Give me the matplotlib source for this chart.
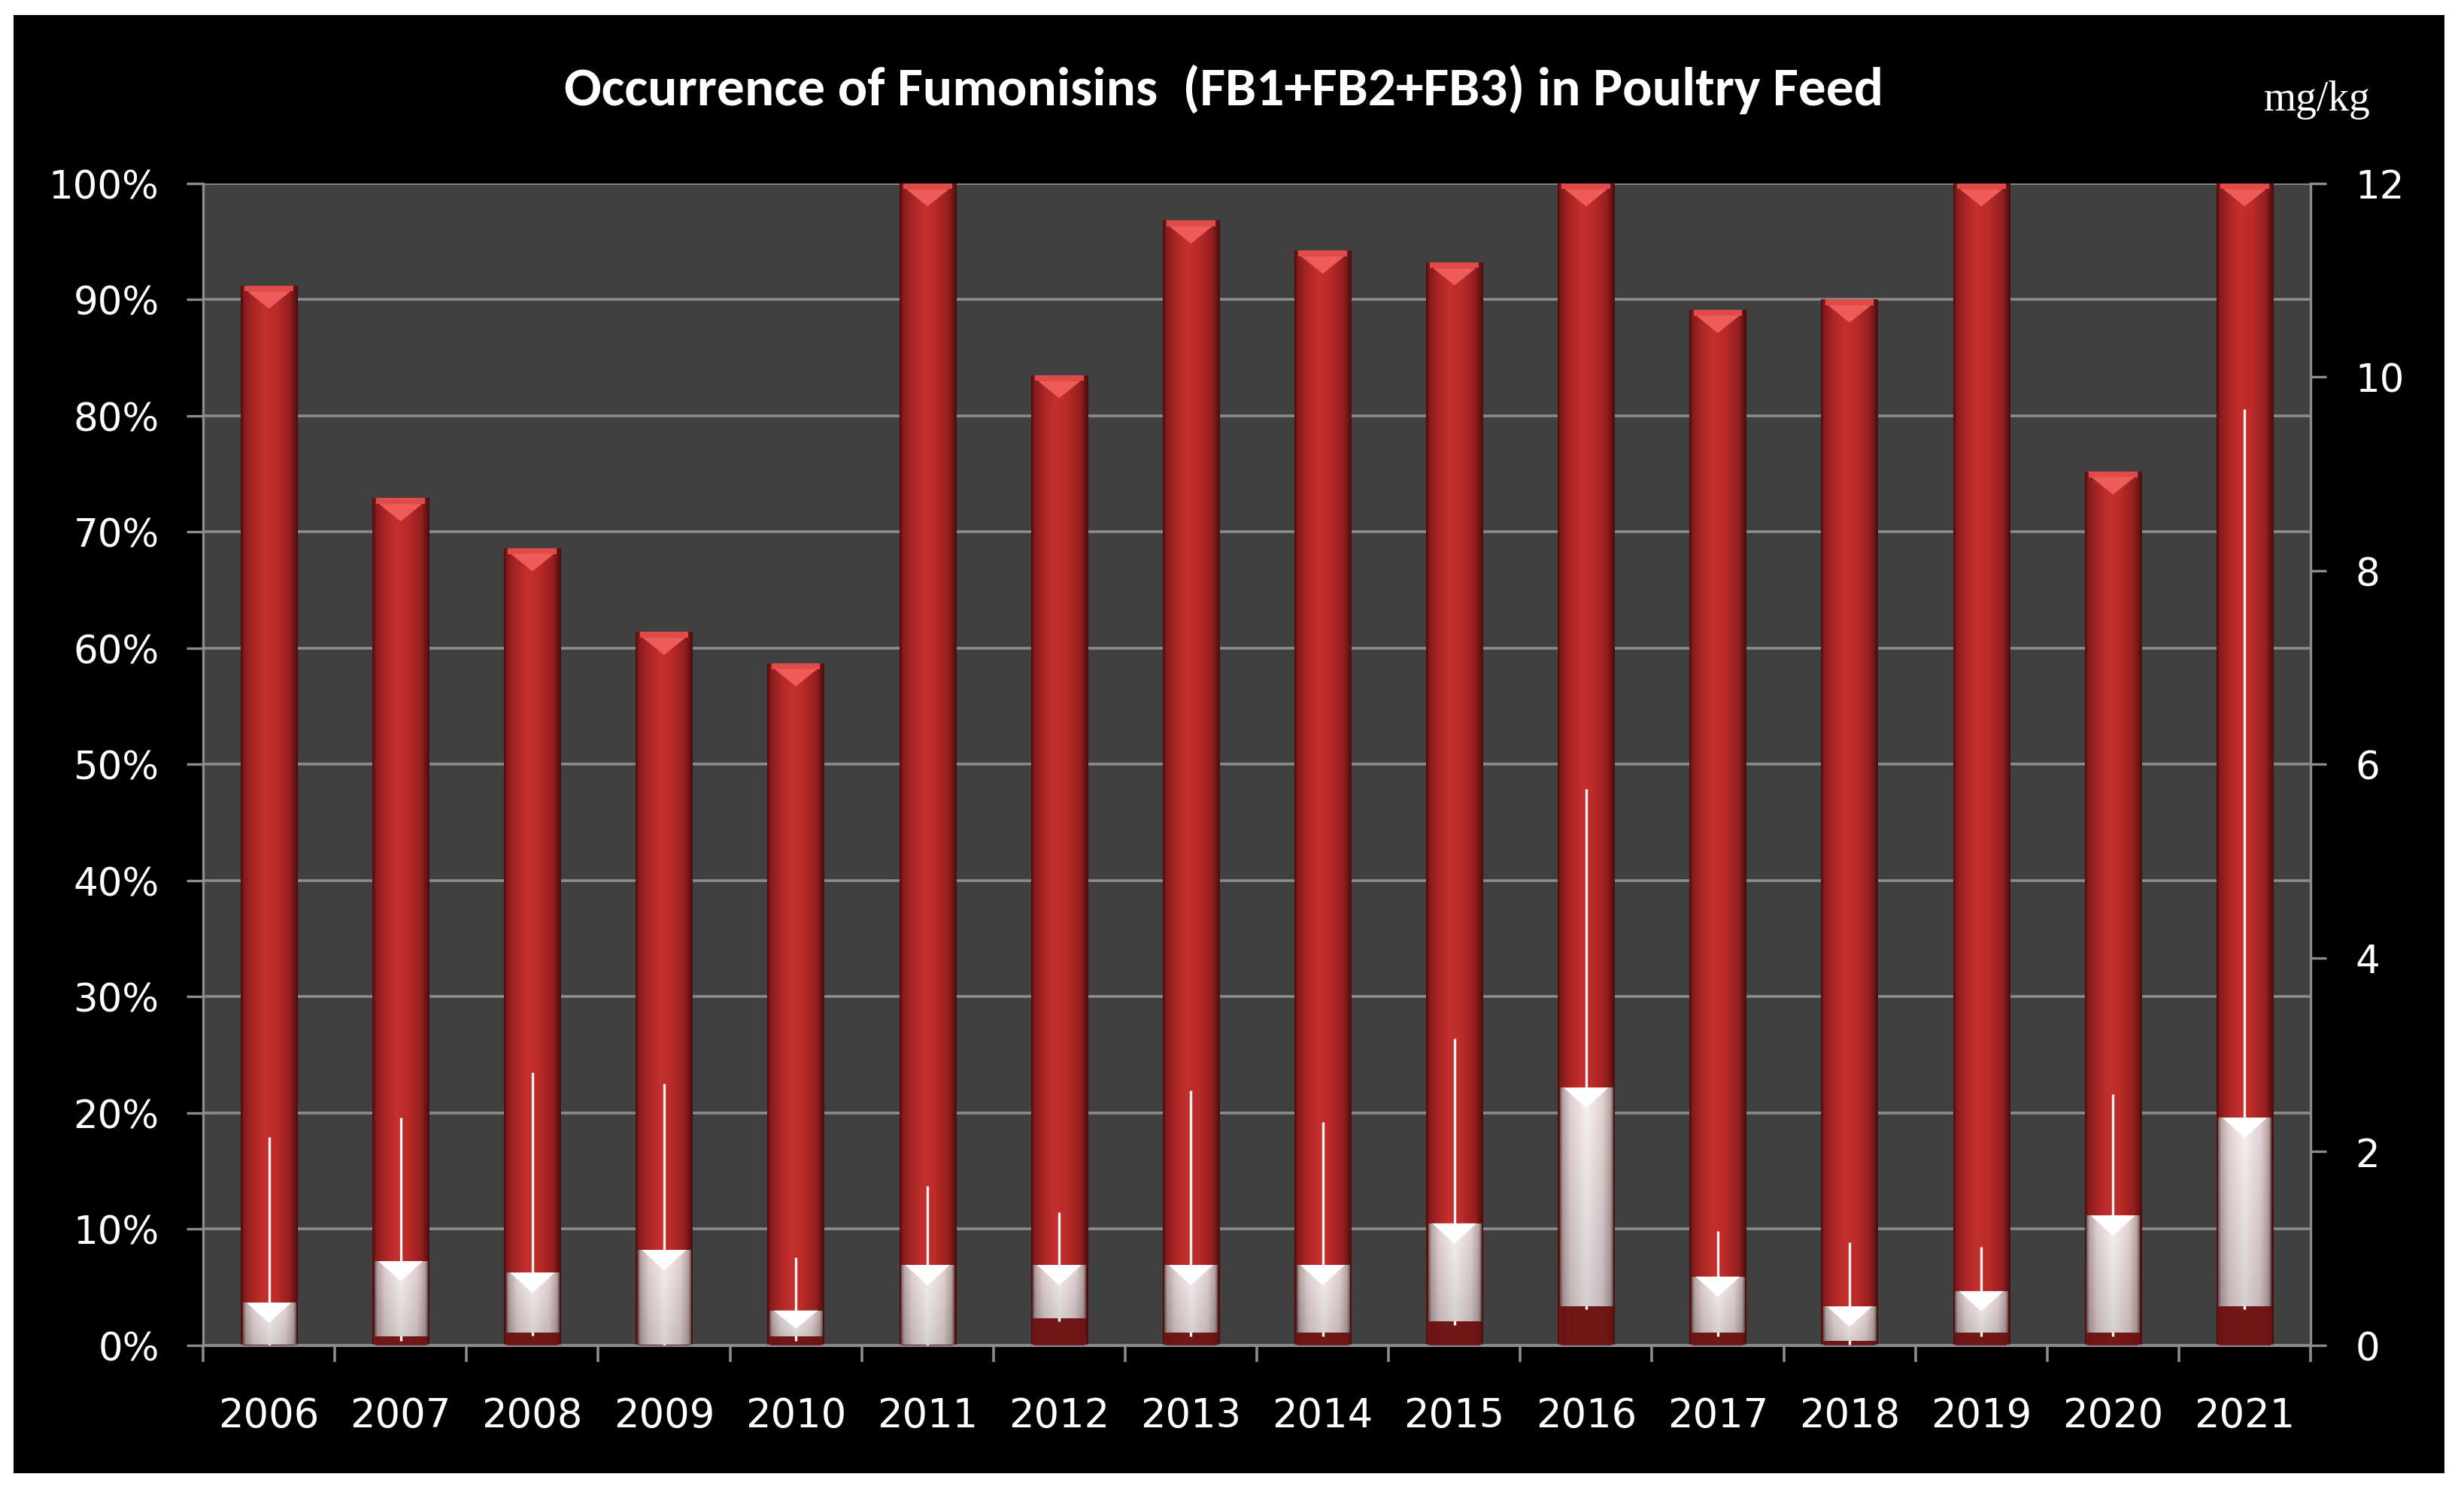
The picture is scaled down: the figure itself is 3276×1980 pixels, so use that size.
import numpy as np
import matplotlib
matplotlib.use('Agg')
import matplotlib.pyplot as plt
from matplotlib import font_manager
from matplotlib.colors import LinearSegmentedColormap
from matplotlib.patches import Rectangle, Polygon

# ---------------- data ----------------
years = ['2006', '2007', '2008', '2009', '2010', '2011', '2012', '2013',
         '2014', '2015', '2016', '2017', '2018', '2019', '2020', '2021']
occurrence = [91.2, 72.9, 68.6, 61.4, 58.7, 100.0, 83.5, 96.8,
              94.2, 93.2, 100.0, 89.1, 90.0, 100.0, 75.2, 100.0]          # % (left axis)
box_low = [0.01, 0.09, 0.13, 0.01, 0.09, 0.01, 0.28, 0.13,
           0.13, 0.25, 0.40, 0.13, 0.05, 0.13, 0.13, 0.40]                 # mg/kg
box_high = [0.44, 0.87, 0.75, 0.985, 0.36, 0.83, 0.83, 0.83,
            0.83, 1.26, 2.66, 0.71, 0.40, 0.56, 1.34, 2.35]                # mg/kg
whisker_low = [0.0, 0.05, 0.10, 0.0, 0.05, 0.0, 0.25, 0.09,
               0.09, 0.21, 0.37, 0.09, 0.01, 0.09, 0.09, 0.37]             # mg/kg
whisker_high = [2.15, 2.35, 2.82, 2.70, 0.91, 1.65, 1.375, 2.63,
                2.31, 3.17, 5.745, 1.18, 1.06, 1.02, 2.59, 9.665]          # mg/kg
pct_ticks = [0, 10, 20, 30, 40, 50, 60, 70, 80, 90, 100]
pct_labels = ['0%', '10%', '20%', '30%', '40%', '50%', '60%', '70%', '80%', '90%', '100%']
mg_ticks = [0, 2, 4, 6, 8, 10, 12]
mg_labels = ['0', '2', '4', '6', '8', '10', '12']
title = 'Occurrence of Fumonisins  (FB1+FB2+FB3) in Poultry Feed'
unit_label = 'mg/kg'

# ---------------- fonts ----------------
available = {f.name for f in font_manager.fontManager.ttflist}
title_family = 'DejaVu Sans'
for cand in ['Carlito', 'Liberation Sans Narrow', 'Roboto Condensed',
             'Open Sans Condensed', 'Lato', 'Open Sans', 'Roboto']:
    if cand in available:
        title_family = cand
        break

# ---------------- figure ----------------
W, H = 3276, 1981
fig = plt.figure(figsize=(W / 100, H / 100), dpi=100, facecolor='white')
fig.patches.append(Rectangle((18 / W, 1 - 1960 / H), (3250 - 18) / W, (1960 - 21) / H,
                             transform=fig.transFigure, facecolor='black',
                             edgecolor='none', zorder=-10))

ax = fig.add_axes([270 / W, 1 - 1790 / H, (3072 - 270) / W, (1790 - 244.6) / H])
ax.set_facecolor('#404040')
ax2 = ax.twinx()

x = np.arange(len(years))
red_w = 0.43
box_w = 0.40
GRID = '#8c8c8c'

# ---- red occurrence bars (cylinder-like gradient) ----
bars = ax.bar(x, occurrence, width=red_w, color='#b02828', linewidth=0, zorder=2)
red_cmap = LinearSegmentedColormap.from_list('redcyl', [
    (0.0, '#4a0d0d'), (0.06, '#861c1c'), (0.22, '#aa2626'), (0.42, '#c4302e'),
    (0.62, '#ba2b29'), (0.86, '#951f1f'), (0.95, '#661313'), (1.0, '#4a0d0d')])
grad = np.linspace(0, 1, 256)[None, :]
for b in bars:
    x0, y0, w, h = b.get_x(), b.get_y(), b.get_width(), b.get_height()
    im = ax.imshow(grad, cmap=red_cmap, extent=(x0, x0 + w, y0, y0 + h),
                   aspect='auto', zorder=2.1, interpolation='bilinear')
    im.set_clip_path(b)
# bevel highlight at top of red bars
tri_d = 2.0
for xi, v in zip(x, occurrence):
    ax.add_patch(Rectangle((xi - red_w / 2 + 0.03, v - 0.5), red_w - 0.06, 0.5,
                           facecolor='#e04a48', edgecolor='none', zorder=2.3))
    ax.add_patch(Polygon([[xi - red_w * 0.38, v - 0.5], [xi + red_w * 0.38, v - 0.5],
                          [xi, v - tri_d]], closed=True, facecolor='#ee5b59',
                         edgecolor='none', zorder=2.35))

# ---- mg/kg boxes on the right axis ----
ax2.bar(x, box_low, width=red_w - 0.04, color='#6a1515', linewidth=0, zorder=2, alpha=0.9)
ax2.vlines(x, whisker_low, whisker_high, colors='#fff2f2', linewidth=2.4, zorder=3)
heights = np.array(box_high) - np.array(box_low)
boxes = ax2.bar(x, heights, bottom=box_low, width=box_w, color='#ecdcdc',
                linewidth=0, zorder=4)
white_cmap = LinearSegmentedColormap.from_list('whitecyl', [
    (0.0, '#6e5858'), (0.05, '#b8a4a4'), (0.2, '#e2d2d2'), (0.5, '#faf3f3'),
    (0.8, '#e4d4d4'), (0.95, '#b8a4a4'), (1.0, '#6e5858')])
rgb = white_cmap(np.linspace(0, 1, 128))[:, :3]
vfac = np.linspace(1.0, 0.86, 64)[:, None, None]
wimg = np.clip(rgb[None, :, :] * vfac, 0, 1)
for b in boxes:
    x0, y0, w, h = b.get_x(), b.get_y(), b.get_width(), b.get_height()
    im = ax2.imshow(wimg, extent=(x0, x0 + w, y0, y0 + h), aspect='auto',
                    zorder=4.1, interpolation='bilinear')
    im.set_clip_path(b)
for xi, lo, hi in zip(x, box_low, box_high):
    d = min(0.21, (hi - lo) * 0.7)
    ax2.add_patch(Polygon([[xi - box_w * 0.42, hi], [xi + box_w * 0.42, hi], [xi, hi - d]],
                          closed=True, facecolor='#ffffff', edgecolor='none', zorder=4.3))

# ---------------- axes styling ----------------
ax.set_xlim(-0.5, len(years) - 0.5)
ax.set_ylim(0, 100)
ax2.set_ylim(0, 12)

ax.set_yticks(pct_ticks)
ax.set_yticklabels(pct_labels)
ax2.set_yticks(mg_ticks)
ax2.set_yticklabels(mg_labels)
ax.set_xticks(x)
ax.set_xticklabels(years)
ax.set_xticks(np.arange(-0.5, len(years), 1), minor=True)

ax.set_axisbelow(True)
ax.yaxis.grid(True, color=GRID, linewidth=2.6)
ax.xaxis.grid(False)

for s in ['top', 'right']:
    ax.spines[s].set_visible(False)
for s in ['top', 'left', 'bottom']:
    ax2.spines[s].set_visible(False)
for s in ['left', 'bottom']:
    ax.spines[s].set_color(GRID)
    ax.spines[s].set_linewidth(2.4)
ax2.spines['right'].set_color(GRID)
ax2.spines['right'].set_linewidth(2.4)

ax.tick_params(axis='y', direction='out', length=16, width=2.4, color=GRID,
               labelsize=37, labelcolor='white', pad=26)
ax2.tick_params(axis='y', direction='out', length=15, width=2.4, color=GRID,
                labelsize=37, labelcolor='white', pad=28)
ax.tick_params(axis='x', which='major', length=0, labelsize=38, labelcolor='white', pad=48)
ax.tick_params(axis='x', which='minor', direction='out', length=16, width=2.6, color=GRID)
ax.tick_params(axis='y', which='minor', length=0)

# title, fitted to the reference width
t = fig.text(1627 / W, 1 - 119 / H, title, ha='center', va='center', fontsize=50,
             color='white', family=[title_family, 'DejaVu Sans'], weight='bold')
renderer = fig.canvas.get_renderer()
tw = t.get_window_extent(renderer).width
t.set_fontsize(50 * 1755 / tw)

fig.text(3081 / W, 1 - 147 / H, unit_label, ha='center', va='baseline', fontsize=40,
         color='white', family=['Liberation Serif', 'DejaVu Serif'])

fig.savefig('out.png', dpi=100, facecolor='white')
